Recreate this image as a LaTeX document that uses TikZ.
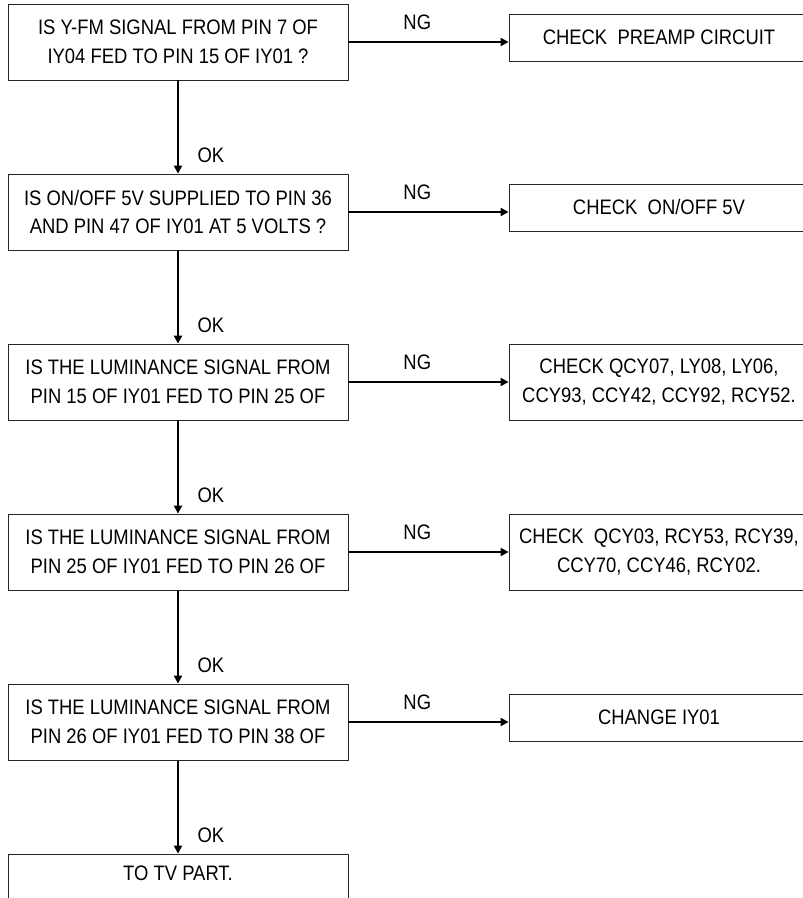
\documentclass[tikz,border=0pt]{standalone}
\usepackage{fontspec}
\setmainfont{Liberation Sans}[FakeStretch=0.88]
\usepackage{tikz}
\usetikzlibrary{arrows.meta, positioning}

\begin{document}
\begin{tikzpicture}[
    box/.style={draw=black!85, line width=0.7pt, minimum width=8.5cm, minimum height=1.9cm,
                align=center, font=\fontsize{14.9pt}{20.6pt}\selectfont},
    rbox/.style={box, minimum width=7.5cm},
    rbox1/.style={rbox, minimum height=1.175cm},
    lbl/.style={inner sep=0pt, font=\fontsize{14.9pt}{20.6pt}\selectfont},
    arr/.style={-{Triangle[length=5.6pt,width=5.8pt]}, line width=1.1pt}
  ]
    \useasboundingbox (0,0) rectangle (20.05,-22.45);

    \node[box] (q1) at (4.45,-1.05)
      {IS Y-FM SIGNAL FROM PIN 7 OF\\IY04 FED TO PIN 15 OF IY01 ?};
    \node[box] (q2) at (4.45,-5.3)
      {IS ON/OFF 5V SUPPLIED TO PIN 36\\AND PIN 47 OF IY01 AT 5 VOLTS ?};
    \node[box] (q3) at (4.45,-9.55)
      {IS THE LUMINANCE SIGNAL FROM\\PIN 15 OF IY01 FED TO PIN 25 OF};
    \node[box] (q4) at (4.45,-13.8)
      {IS THE LUMINANCE SIGNAL FROM\\PIN 25 OF IY01 FED TO PIN 26 OF};
    \node[box] (q5) at (4.45,-18.05)
      {IS THE LUMINANCE SIGNAL FROM\\PIN 26 OF IY01 FED TO PIN 38 OF};
    \node[box] (tv) at (4.45,-22.3) {TO TV PART.\\\strut};

    \node[rbox1] (r1) at (16.475,-0.9375) {CHECK\ \ PREAMP CIRCUIT};
    \node[rbox1] (r2) at (16.475,-5.1875) {CHECK\ \ ON/OFF 5V};
    \node[rbox]  (r3) at (16.475,-9.55)
      {CHECK QCY07, LY08, LY06,\\CCY93, CCY42, CCY92, RCY52.};
    \node[rbox]  (r4) at (16.475,-13.8)
      {CHECK\ \ QCY03, RCY53, RCY39,\\CCY70, CCY46, RCY02.};
    \node[rbox1] (r5) at (16.475,-17.9375) {CHANGE IY01};

    % NG branches
    \draw[arr] (q1.east) -- node[lbl, pos=0.43, above=0.29cm]{NG} (q1.east -| r1.west);
    \draw[arr] (q2.east) -- node[lbl, pos=0.43, above=0.29cm]{NG} (q2.east -| r2.west);
    \draw[arr] (q3.east) -- node[lbl, pos=0.43, above=0.29cm]{NG} (q3.east -| r3.west);
    \draw[arr] (q4.east) -- node[lbl, pos=0.43, above=0.29cm]{NG} (q4.east -| r4.west);
    \draw[arr] (q5.east) -- node[lbl, pos=0.43, above=0.29cm]{NG} (q5.east -| r5.west);

    % OK path
    \draw[arr] (q1.south) -- node[lbl, pos=0.8, right=0.47cm]{OK} (q2.north);
    \draw[arr] (q2.south) -- node[lbl, pos=0.8, right=0.47cm]{OK} (q3.north);
    \draw[arr] (q3.south) -- node[lbl, pos=0.8, right=0.47cm]{OK} (q4.north);
    \draw[arr] (q4.south) -- node[lbl, pos=0.8, right=0.47cm]{OK} (q5.north);
    \draw[arr] (q5.south) -- node[lbl, pos=0.8, right=0.47cm]{OK} (tv.north);
  \end{tikzpicture}
\end{document}
